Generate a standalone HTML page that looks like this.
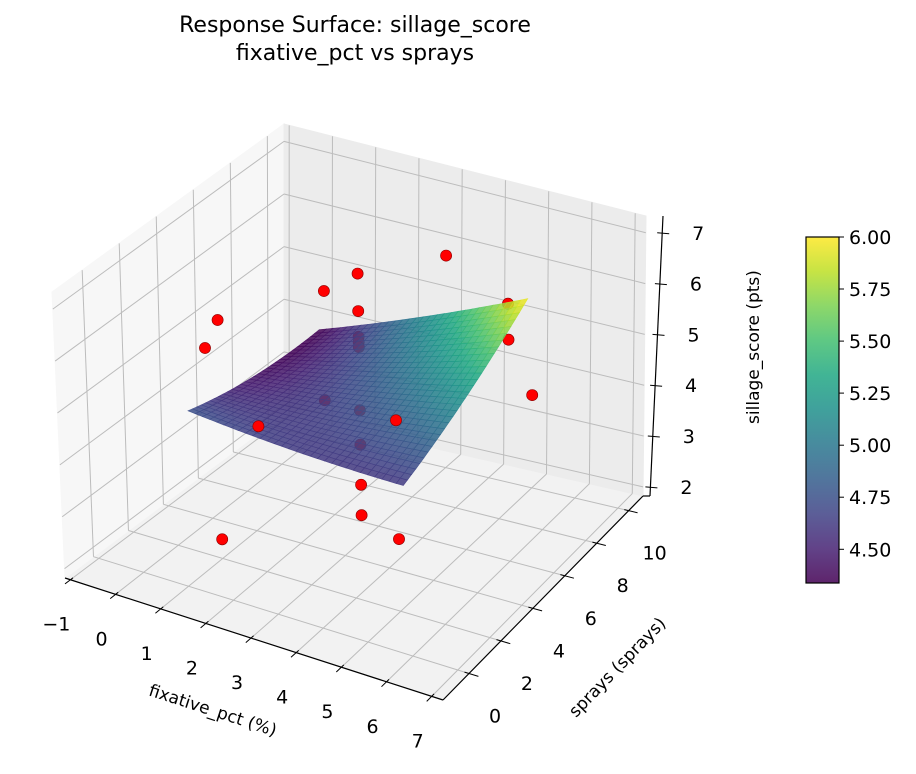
<!DOCTYPE html>
<html><head><meta charset="utf-8"><title>Response Surface</title>
<style>
html,body{margin:0;padding:0;background:#fff;}
svg{display:block;font-family:"DejaVu Sans","Liberation Sans",sans-serif;}
</style></head>
<body>
<svg id="chart" width="916" height="774" viewBox="0 0 916 774" xmlns="http://www.w3.org/2000/svg">
<rect x="0" y="0" width="916" height="774" fill="#ffffff"/>
<text x="355" y="32" font-size="22" text-anchor="middle" fill="#000">Response Surface: sillage_score</text>
<text x="355" y="60" font-size="22" text-anchor="middle" fill="#000">fixative_pct vs sprays</text>
<g id="panes"></g>
<g id="grid"></g>
<g id="points"></g>
<g id="surface"></g>
<g id="pointsFront"></g>
<g id="axes"></g>
<g id="cbar"></g>
</svg>
<script>
// ---- data ----
const xTicks = [-1, 0, 1, 2, 3, 4, 5, 6, 7];
const yTicks = [0, 2, 4, 6, 8, 10];
const zTicks = [2, 3, 4, 5, 6, 7];
const cbTicks = [4.5, 4.75, 5.0, 5.25, 5.5, 5.75, 6.0];
const ptFixative = [-0.2, -0.5, 1, 1, 3, 3, 3, 3, 3, 3, 3, 3, 3, 3, 6.4, 6.4, 5, 5, 5, 2.7, 1];
const ptSprays   = [5, 5, 8, 8, 5, 5, 5, 5, 5, 5, 5, 5, 5, 10, 5, 5, 10, 2, 2, 0, 2];
const ptScore    = [5.32, 4.71, 5.36, 3.26, 7.02, 6.29, 5.79, 5.69, 5.59, 4.36, 3.69, 2.91, 2.32, 5.92, 7.31, 6.6, 3.63, 5.58, 3.24, 5.41, 2.19];
// fitted quadratic model: [b0, b_fix, b_spr, b_fix*spr, b_fix^2, b_spr^2] in coded units
const modelCoef = [4.75, 0.38, 0.24, 0.45, 0.06, 0.12];
const surfFixRange = [0.6, 5.4];
const surfSprRange = [1.3, 8.7];

// ---- axes geometry ----
const xLim = [-1.12, 7.25], yLim = [-1.63, 10.9], zLim = [1.82, 7.33];
const C = {
  b000:[65,578], b100:[443,700], b110:[643,496], b010:[284,414],
  t000:[52,292], t100:[433,424], t110:[646,216], t010:[284,124]
};
const NS = "http://www.w3.org/2000/svg";
function lerp(a,b,t){return [a[0]+(b[0]-a[0])*t, a[1]+(b[1]-a[1])*t];}
function projN(xn,yn,zn){
  const bf=lerp(C.b000,C.b100,xn), bb=lerp(C.b010,C.b110,xn);
  const tf=lerp(C.t000,C.t100,xn), tb=lerp(C.t010,C.t110,xn);
  const b=lerp(bf,bb,yn), t=lerp(tf,tb,yn);
  return lerp(b,t,zn);
}
function proj(x,y,z){
  return projN((x-xLim[0])/(xLim[1]-xLim[0]), (y-yLim[0])/(yLim[1]-yLim[0]), (z-zLim[0])/(zLim[1]-zLim[0]));
}
function el(tag, attrs, parent){
  const e=document.createElementNS(NS,tag);
  for(const k in attrs) e.setAttribute(k, attrs[k]);
  parent.appendChild(e); return e;
}
function pts(arr){return arr.map(p=>p[0].toFixed(1)+","+p[1].toFixed(1)).join(" ");}
const viridis=[[0,"#440154"],[0.1,"#482475"],[0.2,"#414487"],[0.3,"#355f8d"],[0.4,"#2a788e"],[0.5,"#21918c"],[0.6,"#22a884"],[0.7,"#44bf70"],[0.8,"#7ad151"],[0.9,"#bddf26"],[1,"#fde725"]];
function hex2rgb(h){return [parseInt(h.substr(1,2),16),parseInt(h.substr(3,2),16),parseInt(h.substr(5,2),16)];}
function cmap(t){
  t=Math.max(0,Math.min(1,t));
  for(let i=1;i<viridis.length;i++){
    if(t<=viridis[i][0]){
      const a=viridis[i-1], b=viridis[i], f=(t-a[0])/(b[0]-a[0]);
      const ca=hex2rgb(a[1]), cb=hex2rgb(b[1]);
      return "rgb("+ca.map((v,k)=>Math.round(v+(cb[k]-v)*f)).join(",")+")";
    }
  }
  return viridis[viridis.length-1][1];
}

// ---- panes ----
const panes=document.getElementById("panes");
let p;
p=el("polygon",{points:pts([C.b000,C.b100,C.b110,C.b010]),fill:"#f2f2f2",stroke:"#f2f2f2"},panes);
 
p=el("polygon",{points:pts([C.b000,C.b010,C.t010,C.t000]),fill:"#f7f7f7",stroke:"#f7f7f7"},panes);
 
p=el("polygon",{points:pts([C.b010,C.b110,C.t110,C.t010]),fill:"#ececec",stroke:"#ececec"},panes);
 

// ---- gridlines ----
const grid=document.getElementById("grid");
function gline(a,b,name){
  const l=el("line",{x1:a[0],y1:a[1],x2:b[0],y2:b[1],stroke:"#bcbcbc","stroke-width":1},grid);
   
}
xTicks.forEach(x=>{
  gline(proj(x,yLim[0],zLim[0]),proj(x,yLim[1],zLim[0]),'floor-grid-x');
  gline(proj(x,yLim[1],zLim[0]),proj(x,yLim[1],zLim[1]),'back-grid-x');
});
yTicks.forEach(y=>{
  gline(proj(xLim[0],y,zLim[0]),proj(xLim[1],y,zLim[0]),'floor-grid-y');
  gline(proj(xLim[0],y,zLim[0]),proj(xLim[0],y,zLim[1]),'left-grid-y');
});
zTicks.forEach(z=>{
  gline(proj(xLim[0],yLim[1],z),proj(xLim[1],yLim[1],z),'back-grid-z');
  gline(proj(xLim[0],yLim[0],z),proj(xLim[0],yLim[1],z),'left-grid-z');
});

// ---- scatter points ----
const pg=document.getElementById("points");
const pgF=document.getElementById("pointsFront");
for(let i=0;i<ptScore.length;i++){
  const q=proj(ptFixative[i],ptSprays[i],ptScore[i]);
  const front = ptSprays[i] <= 2;
  const c=el("circle",{cx:q[0].toFixed(1),cy:q[1].toFixed(1),r:5.6,fill:"#ff0000",stroke:"#8b0000","stroke-width":0.6},front?pgF:pg);
  
  
}

// ---- surface ----
function model(x,y){
  const u=(x-3)/2.4, v=(y-5)/3.7, b=modelCoef;
  return b[0]+b[1]*u+b[2]*v+b[3]*u*v+b[4]*u*u+b[5]*v*v;
}
const N=30, quads=[];
let zMin=Infinity, zMax=-Infinity;
for(let i=0;i<=N;i++)for(let j=0;j<=N;j++){
  const x=surfFixRange[0]+(surfFixRange[1]-surfFixRange[0])*i/N;
  const y=surfSprRange[0]+(surfSprRange[1]-surfSprRange[0])*j/N;
  const z=model(x,y); zMin=Math.min(zMin,z); zMax=Math.max(zMax,z);
}
for(let i=0;i<N;i++)for(let j=0;j<N;j++){
  const xa=surfFixRange[0]+(surfFixRange[1]-surfFixRange[0])*i/N, xb=surfFixRange[0]+(surfFixRange[1]-surfFixRange[0])*(i+1)/N;
  const ya=surfSprRange[0]+(surfSprRange[1]-surfSprRange[0])*j/N, yb=surfSprRange[0]+(surfSprRange[1]-surfSprRange[0])*(j+1)/N;
  const zs=[model(xa,ya),model(xb,ya),model(xb,yb),model(xa,yb)];
  const zavg=(zs[0]+zs[1]+zs[2]+zs[3])/4;
  const xn=((xa+xb)/2-xLim[0])/(xLim[1]-xLim[0]), yn=((ya+yb)/2-yLim[0])/(yLim[1]-yLim[0]);
  quads.push({poly:[proj(xa,ya,zs[0]),proj(xb,ya,zs[1]),proj(xb,yb,zs[2]),proj(xa,yb,zs[3])],z:zavg,d:0.5*xn-0.866*yn});
}
quads.sort((a,b)=>a.d-b.d);
const sg=document.getElementById("surface");
quads.forEach(q=>{
  const col=cmap((q.z-zMin)/(zMax-zMin));
  const e=el("polygon",{points:pts(q.poly),fill:col,stroke:col,"stroke-width":0.6,"fill-opacity":0.86,"stroke-opacity":0.86},sg);
  
  
});

// ---- axes ----
const ax=document.getElementById("axes");
function aline(a,b,name,w){
  const l=el("line",{x1:a[0].toFixed(1),y1:a[1].toFixed(1),x2:b[0].toFixed(1),y2:b[1].toFixed(1),stroke:"#000","stroke-width":w||1},ax);
   
}
function atext(x,y,s,name,opts){
  const t=el("text",Object.assign({x:x.toFixed(1),y:y.toFixed(1),"font-size":19,"text-anchor":"middle",fill:"#000"},opts||{}),ax);
  t.textContent=s;
   
  return t;
}
const xr=xLim[1]-xLim[0], yr=yLim[1]-yLim[0];
aline(C.b000,C.b100,'x-axis-line',1.2);
xTicks.forEach(x=>{
  aline(proj(x,yLim[0]+0.012*yr,zLim[0]),proj(x,yLim[0]-0.025*yr,zLim[0]),'x-tick');
  const q=proj(x,yLim[0],zLim[0]);
  atext(q[0]-14,q[1]+51,x<0?"\u2212"+Math.abs(x):String(x),'x-tick-label');
});
aline(C.b100,C.b110,'y-axis-line',1.2);
yTicks.forEach(y=>{
  aline(proj(xLim[1]-0.012*xr,y,zLim[0]),proj(xLim[1]+0.025*xr,y,zLim[0]),'y-tick');
  const q=proj(xLim[1],y,zLim[0]);
  atext(q[0]+26,q[1]+49,String(y),'y-tick-label');
});
function zaxisPt(z){const q=proj(xLim[1],yLim[1],z); const zn=(z-zLim[0])/(zLim[1]-zLim[0]); return [q[0]+7+10*zn,q[1]];}
aline(C.b110,zaxisPt(zLim[0]),'z-axis-join',1.2);
aline(zaxisPt(zLim[0]),zaxisPt(zLim[1]),'z-axis-line',1.2);
zTicks.forEach(z=>{
  const q=zaxisPt(z);
  aline([q[0]-5,q[1]],[q[0]+7,q[1]+1],'z-tick');
  atext(q[0]+36,q[1]+7,String(z),'z-tick-label');
});
atext(213,716,"fixative_pct (%)",'x-axis-title',{"font-size":17,transform:"rotate(18 213 710)"});
atext(617,673,"sprays (sprays)",'y-axis-title',{"font-size":17,transform:"rotate(-46 617 667)"});
atext(753,353,"sillage_score (pts)",'z-axis-title',{"font-size":17,transform:"rotate(-90 753 347)"});

// ---- colorbar ----
const cb=document.getElementById("cbar");
const cbX=806, cbY=237, cbW=33, cbH=346;
const defs=el("defs",{},cb);
const lg=el("linearGradient",{id:"vir",x1:0,y1:1,x2:0,y2:0},defs);
viridis.forEach(s=>{ el("stop",{offset:s[0],"stop-color":s[1],"stop-opacity":0.86},lg); });
const cr=el("rect",{x:cbX,y:cbY,width:cbW,height:cbH,fill:"url(#vir)",stroke:"#000","stroke-width":1.2},cb);
 
cbTicks.forEach(v=>{
  const y=cbY+cbH*(1-(v-zMin)/(zMax-zMin));
  const l=el("line",{x1:cbX+cbW,y1:y.toFixed(1),x2:cbX+cbW+5,y2:y.toFixed(1),stroke:"#000","stroke-width":1},cb);
   
  const t=el("text",{x:cbX+cbW+10,y:(y+7).toFixed(1),"font-size":19,fill:"#000"},cb);
  t.textContent=v.toFixed(2);
   
});
</script>
</body></html>
